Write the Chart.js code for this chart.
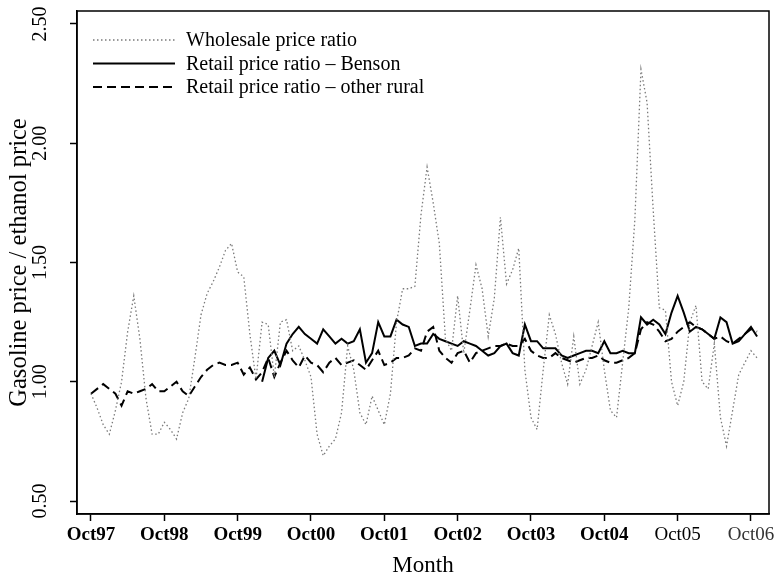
<!DOCTYPE html>
<html>
<head>
<meta charset="utf-8">
<script src="https://cdn.jsdelivr.net/npm/chart.js@4/dist/chart.umd.min.js"></script>
<style>
  html, body { margin: 0; padding: 0; background: #fff; }
  #wrap { width: 777px; height: 582px; }
</style>
</head>
<body>
<div id="wrap"><canvas id="ratioChart" width="777" height="582"></canvas></div>
<script>
// months since Oct97 where the axis is labelled
const tickMonths = [0, 12, 24, 36, 48, 60, 72, 84, 96, 108];
const tickLabels = ['Oct97', 'Oct98', 'Oct99', 'Oct00', 'Oct01', 'Oct02', 'Oct03', 'Oct04', 'Oct05', 'Oct06'];
const yTicks = [0.5, 1.0, 1.5, 2.0, 2.5];

// monthly ratios, Oct97 .. Nov06
const wholesale = [
    0.95, 0.89, 0.82, 0.78, 0.88, 1.00, 1.21, 1.36, 1.18, 0.93, 0.78, 0.78,
    0.83, 0.80, 0.76, 0.87, 0.93, 1.10, 1.28, 1.37, 1.42, 1.48, 1.55, 1.58,
    1.46, 1.44, 1.20, 1.01, 1.25, 1.24, 1.02, 1.25, 1.26, 1.13, 1.15, 1.09,
    1.02, 0.78, 0.69, 0.73, 0.76, 0.87, 1.15, 1.05, 0.87, 0.82, 0.94, 0.88,
    0.82, 0.95, 1.25, 1.39, 1.39, 1.40, 1.70, 1.90, 1.75, 1.58, 1.18, 1.13,
    1.36, 1.12, 1.30, 1.49, 1.39, 1.19, 1.35, 1.69, 1.41, 1.47, 1.56, 1.05,
    0.85, 0.80, 1.05, 1.28, 1.20, 1.08, 0.99, 1.19, 0.99, 1.05, 1.15, 1.25,
    1.05, 0.88, 0.85, 1.08, 1.31, 1.68, 2.31, 2.17, 1.72, 1.31, 1.30, 1.00,
    0.90, 1.00, 1.25, 1.32, 1.00, 0.97, 1.16, 0.85, 0.73, 0.88, 1.03, 1.08,
    1.13, 1.10
];
const benson = [
    null, null, null, null, null, null, null, null, null, null, null, null,
    null, null, null, null, null, null, null, null, null, null, null, null,
    null, null, null, null, 1.00, 1.10, 1.13, 1.07, 1.16, 1.20, 1.23, 1.20,
    1.18, 1.16, 1.22, 1.19, 1.16, 1.18, 1.16, 1.17, 1.22, 1.08, 1.12, 1.25,
    1.19, 1.19, 1.26, 1.24, 1.23, 1.15, 1.16, 1.16, 1.20, 1.18, 1.17, 1.16,
    1.15, 1.17, 1.16, 1.15, 1.13, 1.11, 1.12, 1.15, 1.16, 1.12, 1.11, 1.24,
    1.17, 1.17, 1.14, 1.14, 1.14, 1.11, 1.10, 1.11, 1.12, 1.13, 1.13, 1.12,
    1.17, 1.12, 1.12, 1.13, 1.12, 1.12, 1.27, 1.24, 1.26, 1.24, 1.20, 1.29,
    1.36, 1.29, 1.21, 1.23, 1.22, 1.20, 1.18, 1.27, 1.25, 1.16, 1.17, 1.20,
    1.23, 1.19
];
const otherRural = [
    0.95, 0.97, 0.99, 0.97, 0.95, 0.90, 0.96, 0.95, 0.96, 0.97, 0.99, 0.96,
    0.96, 0.98, 1.00, 0.96, 0.94, 0.98, 1.02, 1.05, 1.07, 1.08, 1.07, 1.07,
    1.08, 1.03, 1.06, 1.01, 1.04, 1.10, 1.02, 1.08, 1.13, 1.09, 1.06, 1.11,
    1.08, 1.07, 1.04, 1.08, 1.10, 1.07, 1.08, 1.09, 1.07, 1.05, 1.09, 1.13,
    1.07, 1.08, 1.10, 1.10, 1.11, 1.14, 1.13, 1.21, 1.23, 1.13, 1.10, 1.08,
    1.12, 1.13, 1.08, 1.12, 1.13, 1.14, 1.15, 1.15, 1.16, 1.15, 1.15, 1.18,
    1.13, 1.11, 1.10, 1.10, 1.12, 1.10, 1.09, 1.08, 1.09, 1.10, 1.10, 1.11,
    1.09, 1.08, 1.08, 1.09, 1.10, 1.12, 1.22, 1.25, 1.24, 1.21, 1.17, 1.18,
    1.21, 1.23, 1.25, 1.23, 1.22, 1.20, 1.18, 1.19, 1.17, 1.16, 1.18, 1.20,
    1.22, 1.21
];

const serif = '"Liberation Serif", "DejaVu Serif", serif';

function toPoints(arr) {
    return arr.map((v, i) => ({ x: i, y: v }));
}

// box round the plot area
const frame = {
    id: 'frame',
    afterDraw(chart) {
        const a = chart.chartArea;
        const ctx = chart.ctx;
        ctx.save();
        ctx.strokeStyle = '#000';
        ctx.lineWidth = 1.5;
        ctx.strokeRect(a.left, a.top, a.right - a.left, a.bottom - a.top);
        ctx.restore();
    }
};

// legend drawn inside the plot, top left
const innerLegend = {
    id: 'innerLegend',
    afterDraw(chart) {
        const a = chart.chartArea;
        const ctx = chart.ctx;
        ctx.save();
        ctx.font = '20px ' + serif;
        ctx.textBaseline = 'middle';
        ctx.fillStyle = '#000';
        chart.data.datasets.forEach((ds, i) => {
            const y = a.top + 29 + i * 23.5;
            ctx.beginPath();
            ctx.strokeStyle = ds.borderColor;
            ctx.lineWidth = ds.borderWidth;
            ctx.setLineDash(ds.borderDash || []);
            ctx.moveTo(a.left + 16, y);
            ctx.lineTo(a.left + 98, y);
            ctx.stroke();
            ctx.setLineDash([]);
            ctx.fillText(ds.label, a.left + 109, y + 1);
        });
        ctx.restore();
    }
};

const ctx = document.getElementById('ratioChart').getContext('2d');
new Chart(ctx, {
    type: 'line',
    data: {
        datasets: [{
            label: 'Wholesale price ratio',
            data: toPoints(wholesale),
            borderColor: '#7a7a7a',
            borderWidth: 1.3,
            borderDash: [1.5, 2.5]
        }, {
            label: 'Retail price ratio \u2013 Benson',
            data: toPoints(benson),
            borderColor: '#000',
            borderWidth: 2
        }, {
            label: 'Retail price ratio \u2013 other rural',
            data: toPoints(otherRural),
            borderColor: '#000',
            borderWidth: 2,
            borderDash: [9, 5]
        }]
    },
    options: {
        responsive: false,
        animation: false,
        events: [],
        elements: {
            point: { radius: 0 },
            line: { tension: 0, fill: false }
        },
        layout: { padding: { left: 0, top: 11, right: 8, bottom: 0 } },
        plugins: {
            legend: { display: false },
            tooltip: { enabled: false }
        },
        scales: {
            x: {
                type: 'linear',
                min: -2.29,
                max: 110.95,
                afterBuildTicks: scale => {
                    scale.ticks = tickMonths.map(v => ({ value: v }));
                },
                afterFit: scale => {
                    scale.height = 68;
                    scale.paddingLeft = 0;
                    scale.paddingRight = 0;
                },
                grid: {
                    drawOnChartArea: false,
                    drawTicks: true,
                    tickLength: 7,
                    tickWidth: 1.5,
                    tickColor: '#000'
                },
                border: { display: true, color: '#000', width: 1.5 },
                ticks: {
                    autoSkip: false,
                    maxRotation: 0,
                    minRotation: 0,
                    padding: 3,
                    color: c => c.index === 9 ? '#333' : '#000',
                    font: c => ({ family: serif, size: 19, weight: c.index < 8 ? 'bold' : 'normal' }),
                    callback: (v, i) => tickLabels[i]
                },
                title: {
                    display: true,
                    text: 'Month',
                    color: '#000',
                    font: { family: serif, size: 23 },
                    padding: { top: 0, bottom: 2 }
                }
            },
            y: {
                min: 0.4455,
                max: 2.5545,
                afterBuildTicks: scale => {
                    scale.ticks = yTicks.map(v => ({ value: v }));
                },
                afterFit: scale => {
                    scale.width = 77;
                    scale.paddingTop = 0;
                    scale.paddingBottom = 0;
                },
                grid: {
                    drawOnChartArea: false,
                    drawTicks: true,
                    tickLength: 7,
                    tickWidth: 1.5,
                    tickColor: '#000'
                },
                border: { display: true, color: '#000', width: 1.5 },
                ticks: {
                    minRotation: 90,
                    maxRotation: 90,
                    crossAlign: 'center',
                    padding: 12,
                    color: '#000',
                    font: { family: serif, size: 20 },
                    callback: v => v.toFixed(2)
                },
                title: {
                    display: true,
                    text: 'Gasoline price / ethanol price',
                    color: '#000',
                    font: { family: serif, size: 24.5 },
                    padding: { top: 5, bottom: 0 }
                }
            }
        }
    },
    plugins: [frame, innerLegend]
});
</script>
</body>
</html>
